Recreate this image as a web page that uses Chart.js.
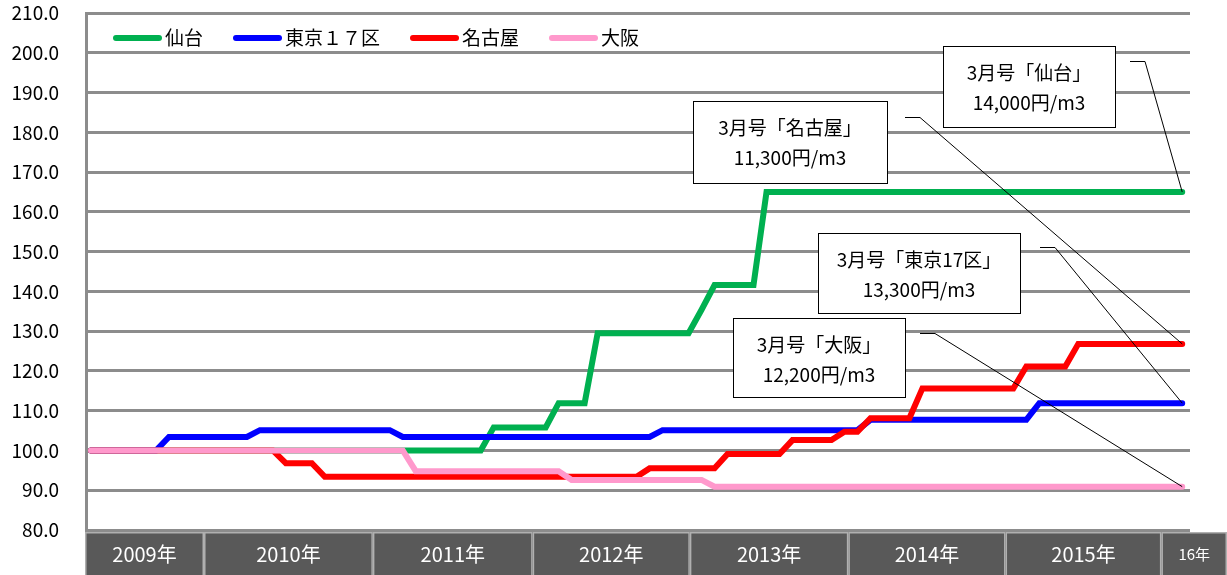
<!DOCTYPE html>
<html>
<head>
<meta charset="utf-8">
<script src="https://cdn.jsdelivr.net/npm/chart.js@4.4.1/dist/chart.umd.min.js"></script>
<style>
html,body{margin:0;padding:0;background:#fff;}
#wrap{width:1227px;height:575px;position:relative;}
</style>
</head>
<body>
<div id="wrap"><canvas id="c" width="1227" height="575"></canvas></div>
<script>
// ---- data (monthly index, first point = 100) ----
const seriesNames = ['仙台', '東京１７区', '名古屋', '大阪'];
const seriesColors = ['#00B050', '#0000FF', '#FF0000', '#FF99CC'];

const sendai = [
  100,100,100,100,100,100,100,100,100,100,
  100,100,100,100,100,100,100,100,100,100,
  100,100,100,100,100,100,100,100,100,100,
  100,
  105.8,105.8,105.8,105.8,105.8,
  111.9,111.9,111.9,
  129.5,129.5,129.5,129.5,129.5,129.5,129.5,129.5,
  135.4,
  141.6,141.6,141.6,141.6,
  165,165,165,165,165,165,165,165,165,165,
  165,165,165,165,165,165,165,165,165,165,
  165,165,165,165,165,165,165,165,165,165,
  165,165,165
];
const tokyo17 = [
  100,100,100,100,100,100,
  103.4,103.4,103.4,103.4,103.4,103.4,103.4,
  105.1,105.1,105.1,105.1,105.1,105.1,105.1,105.1,105.1,105.1,105.1,
  103.4,103.4,103.4,103.4,103.4,103.4,103.4,103.4,103.4,103.4,
  103.4,103.4,103.4,103.4,103.4,103.4,103.4,103.4,103.4,103.4,
  105.1,105.1,105.1,105.1,105.1,105.1,105.1,105.1,
  105.1,105.1,105.1,105.1,105.1,105.1,105.1,105.1,
  107.7,107.7,107.7,107.7,107.7,107.7,107.7,107.7,107.7,107.7,107.7,107.7,107.7,
  111.9,111.9,111.9,111.9,111.9,111.9,111.9,111.9,111.9,111.9,111.9,111.9
];
const nagoya = [
  100,100,100,100,100,100,100,100,100,100,100,100,100,100,100,
  96.8,96.8,96.8,
  93.4,93.4,93.4,93.4,93.4,93.4,93.4,93.4,93.4,93.4,
  93.4,93.4,93.4,93.4,93.4,93.4,93.4,93.4,93.4,93.4,
  93.4,93.4,93.4,93.4,93.4,
  95.5,95.5,95.5,95.5,95.5,95.5,
  99.1,99.1,99.1,99.1,99.1,
  102.6,102.6,102.6,102.6,
  104.7,104.7,
  108.1,108.1,108.1,108.1,
  115.6,115.6,115.6,115.6,115.6,115.6,115.6,115.6,
  121.1,121.1,121.1,121.1,
  126.8,126.8,126.8,126.8,126.8,126.8,126.8,126.8,126.8
];
const osaka = [
  100,100,100,100,100,100,100,100,100,100,
  100,100,100,100,100,100,100,100,100,100,
  100,100,100,100,100,
  94.8,94.8,94.8,94.8,94.8,94.8,94.8,94.8,94.8,94.8,94.8,94.8,
  92.6,92.6,92.6,92.6,92.6,92.6,92.6,92.6,92.6,92.6,92.6,
  90.9,90.9,90.9,90.9,90.9,90.9,90.9,90.9,90.9,90.9,
  90.9,90.9,90.9,90.9,90.9,90.9,90.9,90.9,90.9,90.9,
  90.9,90.9,90.9,90.9,90.9,90.9,90.9,90.9,90.9,90.9,
  90.9,90.9,90.9,90.9,90.9,90.9,90.9
];

// year band (tick labels) and their left edges in month-index units
const yearLabels = ['2009年','2010年','2011年','2012年','2013年','2014年','2015年','16年'];
const yearEdges  = [-0.46, 8.7, 21.7, 34.0, 46.1, 58.3, 70.4, 82.4];

// y-axis ticks
const yMin = 80, yMax = 210, yStep = 10;

// callout texts
const noteTitles = ['3月号「仙台」', '3月号「名古屋」', '3月号「東京17区」', '3月号「大阪」'];
const notePrices = ['14,000円/m3', '11,300円/m3', '13,300円/m3', '12,200円/m3'];
const noteSeries = [0, 2, 1, 3];
// callout layout (box x, y, w, h, elbow start x, elbow end x, elbow y)
const noteLayout = [
  [943, 46, 172, 81, 1130, 1145, 61],
  [693, 101, 194, 82, 905, 920, 117],
  [818, 233, 202, 80, 1040, 1055, 247],
  [733, 318, 172, 79, 920, 935, 333]
];

const FONT = "'Noto Sans CJK JP', 'Noto Sans', sans-serif";
const allSeries = [sendai, tokyo17, nagoya, osaka];

const customPlugin = {
  id: 'custom',
  afterDatasetsDraw(chart) {
    const { ctx, chartArea: ca, scales: { x, y } } = chart;
    ctx.save();
    // legend
    let lx = ca.left + 27;
    const ly = 38;
    ctx.font = '19px ' + FONT;
    ctx.textBaseline = 'middle';
    ctx.textAlign = 'left';
    seriesNames.forEach((name, i) => {
      ctx.strokeStyle = seriesColors[i];
      ctx.lineWidth = 6;
      ctx.lineCap = 'round';
      ctx.beginPath();
      ctx.moveTo(lx + 3, ly);
      ctx.lineTo(lx + 46, ly);
      ctx.stroke();
      ctx.fillStyle = '#000';
      ctx.fillText(name, lx + 52, ly);
      lx += 52 + ctx.measureText(name).width + 30;
    });
    // callouts
    ctx.lineCap = 'butt';
    noteLayout.forEach((L, k) => {
      const s = allSeries[noteSeries[k]];
      const px = x.getPixelForValue(s.length - 1);
      const py = y.getPixelForValue(s[s.length - 1]);
      ctx.strokeStyle = '#000';
      ctx.lineWidth = 1;
      ctx.beginPath();
      ctx.moveTo(L[4], L[6] + 0.5);
      ctx.lineTo(L[5], L[6] + 0.5);
      ctx.lineTo(px, py);
      ctx.stroke();
      ctx.fillStyle = '#fff';
      ctx.fillRect(L[0], L[1], L[2], L[3]);
      ctx.strokeRect(L[0] + 0.5, L[1] + 0.5, L[2], L[3]);
      ctx.fillStyle = '#000';
      ctx.textAlign = 'center';
      ctx.font = '19px ' + FONT;
      const cx = L[0] + L[2] / 2;
      ctx.fillText(noteTitles[k], cx, L[1] + 27);
      ctx.fillText(notePrices[k], cx, L[1] + 57);
    });
    // year band
    const top = ca.bottom + 2, bottom = chart.height;
    yearLabels.forEach((lab, k) => {
      const x0 = x.getPixelForValue(yearEdges[k]);
      const x1 = k + 1 < yearEdges.length ? x.getPixelForValue(yearEdges[k + 1]) : chart.width;
      ctx.fillStyle = '#595959';
      ctx.fillRect(x0, top, x1 - x0, bottom - top);
      ctx.strokeStyle = '#b0b0b0';
      ctx.lineWidth = 1.5;
      ctx.strokeRect(x0 + 0.75, top + 0.75, x1 - x0 - 1.5, bottom - top + 2);
      ctx.fillStyle = '#fff';
      ctx.textAlign = 'center';
      ctx.font = (k === yearLabels.length - 1 ? '15px ' : '20px ') + FONT;
      ctx.fillText(lab, (x0 + x1) / 2, (top + bottom) / 2 + 1);
    });
    ctx.restore();
  }
};

const mk = (arr) => arr.map((v, i) => ({ x: i, y: v }));

new Chart(document.getElementById('c'), {
  type: 'line',
  data: {
    datasets: allSeries.map((arr, i) => ({
      label: seriesNames[i],
      data: mk(arr),
      borderColor: seriesColors[i],
      backgroundColor: seriesColors[i],
      borderWidth: 6,
      pointRadius: 0,
      tension: 0,
      borderCapStyle: 'round',
      borderJoinStyle: 'miter',
      fill: false,
      order: 4 - i
    }))
  },
  options: {
    responsive: false,
    animation: false,
    events: [],
    layout: { padding: { left: 0, top: 13, right: 37, bottom: 45 } },
    plugins: { legend: { display: false }, tooltip: { enabled: false } },
    scales: {
      x: {
        type: 'linear',
        display: false,
        min: -0.385,
        max: 84.6
      },
      y: {
        min: yMin,
        max: yMax,
        afterFit: (s) => { s.width = 86; },
        ticks: {
          stepSize: yStep,
          padding: 0,
          color: '#000',
          font: { family: FONT, size: 19 },
          callback: (v) => Number(v).toFixed(1)
        },
        grid: { color: '#8c8c8c', lineWidth: 3, drawTicks: true, tickLength: 27, tickColor: 'rgba(0,0,0,0)' },
        border: { display: true, color: '#8c8c8c', width: 3 }
      }
    }
  },
  plugins: [customPlugin]
});
</script>
</body>
</html>
